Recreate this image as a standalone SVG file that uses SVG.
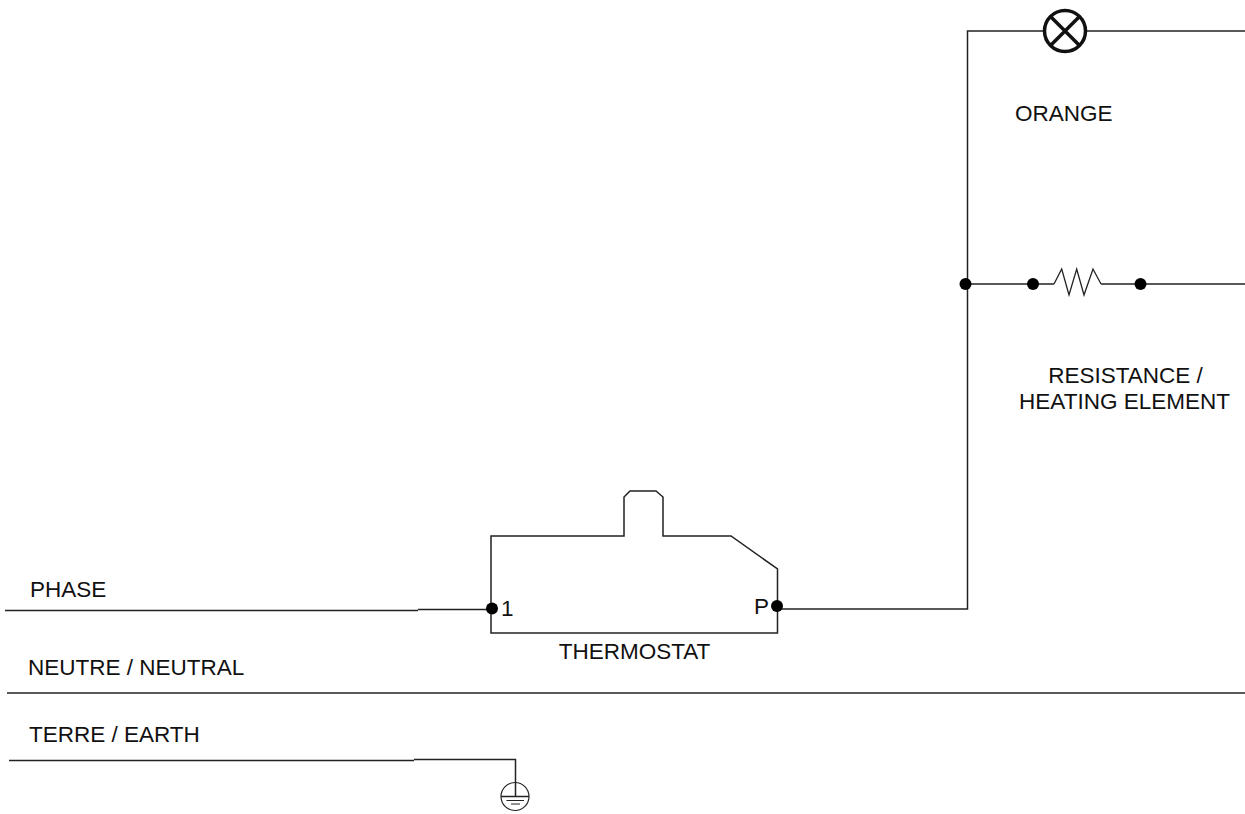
<svg xmlns="http://www.w3.org/2000/svg" width="1245" height="814" viewBox="0 0 1245 814">
<style>
.w{fill:none;stroke:#222;stroke-width:1.500}
.d{fill:#000}
text{font-family:"Liberation Sans",Arial,sans-serif;font-size:22.500px;fill:#111}
</style>
<rect width="1245" height="814" fill="#fff"/>
<g id="connectors">
<path class="w" d="M5 610.500H418M418 609.500H491"/>
<path class="w" d="M777 609H967.500V31H1245"/>
<path class="w" d="M966 284H1054M1101 284H1245"/>
<path class="w" d="M7 693H1245"/>
<path class="w" d="M9 760.500H414M414 759.500H515.500V783"/>
</g>
<g id="lamp">
<circle cx="1065" cy="31" r="20.500" fill="#fff" stroke="#111" stroke-width="3.500"/>
<path d="M1050.500 16.500L1079.500 45.500M1079.500 16.500L1050.500 45.500" stroke="#111" stroke-width="3.500" fill="none"/>
</g>
<g id="orange-label"><text x="1015" y="121">ORANGE</text></g>
<g id="resistance">
<path d="M1054 284L1061.700 269L1069 295L1076.700 269L1084 295L1093 269L1101 284" fill="none" stroke="#222" stroke-width="1.300"/>
<circle class="d" cx="965.500" cy="284" r="6"/>
<circle class="d" cx="1033" cy="284" r="6"/>
<circle class="d" cx="1140.500" cy="284" r="6"/>
</g>
<g id="resistance-label">
<text x="1125.500" y="383" text-anchor="middle">RESISTANCE /</text>
<text x="1124.500" y="409" text-anchor="middle">HEATING ELEMENT</text>
</g>
<g id="thermostat">
<path class="w" d="M491 536H624V497L630 491H656L663 497V536H731L777.500 569V633H491Z"/>
<circle class="d" cx="492" cy="608.500" r="6"/>
<circle class="d" cx="777" cy="606" r="6"/>
<text x="501" y="616">1</text>
<text x="754" y="614">P</text>
<text x="634.500" y="659" text-anchor="middle">THERMOSTAT</text>
</g>
<g id="labels">
<text x="30" y="597">PHASE</text>
<text x="28" y="675">NEUTRE / NEUTRAL</text>
<text x="29" y="742">TERRE / EARTH</text>
</g>
<g id="earth">
<circle cx="515" cy="796.500" r="14" fill="#fff" stroke="#222" stroke-width="1.200"/>
<path class="w" d="M515.500 782V797M501 796.500H529" />
<path d="M506.500 800.500H524M511 804H520" fill="none" stroke="#222" stroke-width="1"/>
</g>
</svg>
